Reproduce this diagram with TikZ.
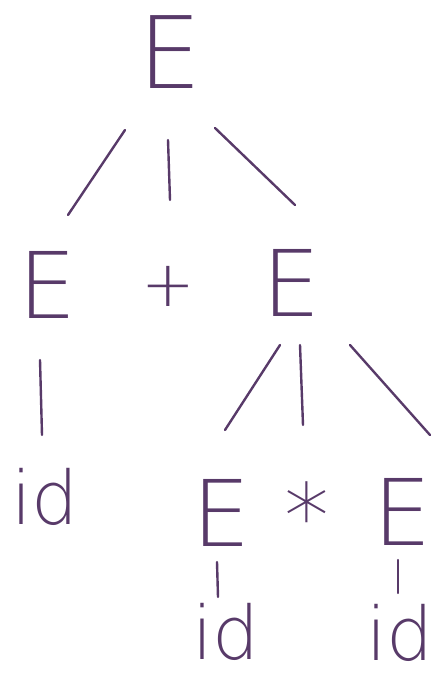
\documentclass[tikz,border=0pt]{standalone}
\usepackage{fontspec}
\setmainfont{DejaVu Sans ExtraLight}
\usetikzlibrary{positioning}
\definecolor{ink}{RGB}{88,58,105}
\tikzset{
  sym/.style={text=ink, inner sep=0pt, anchor=center},
  big/.style={sym, font=\fontsize{100}{100}\selectfont},
  mid/.style={sym, font=\fontsize{92}{92}\selectfont},
  small/.style={sym, font=\fontsize{74}{74}\selectfont},
  edge/.style={draw=ink, line width=2.4pt, line cap=round}
}
\begin{document}
\begin{tikzpicture}[x=1pt, y=-1pt]
\useasboundingbox (0,0) rectangle (441,679);
% nonterminals and tokens
\node[big] (e0) at (170,52) {E};
\node[mid] (e1) at (48,285) {E};
\node[sym, font=\fontsize{64}{64}\selectfont] (plus) at (168,286) {+};
\node[mid] (e2) at (292,283) {E};
\node[small] (id1) at (45,497) {id};
\node[mid] (e3) at (222,513) {E};
\node[sym, font=\fontsize{90}{90}\selectfont] (times) at (307,515) {*};
\node[mid] (e4) at (403,512) {E};
\node[small] (id3) at (226,632) {id};
\node[small] (id4) at (400,633) {id};
% tree edges
\draw[edge] ([shift={(-45,78)}]e0.center) -- ([shift={(20,-70)}]e1.center);
\draw[edge] ([shift={(-2,88)}]e0.center) -- ([shift={(2,-86)}]plus.center);
\draw[edge] ([shift={(45,76)}]e0.center) -- ([shift={(3,-78)}]e2.center);
\draw[edge] ([shift={(-8,75)}]e1.center) -- ([shift={(-3,-62)}]id1.center);
\draw[edge] ([shift={(-12,62)}]e2.center) -- ([shift={(3,-83)}]e3.center);
\draw[edge] ([shift={(8,62)}]e2.center) -- ([shift={(-4,-90)}]times.center);
\draw[edge] ([shift={(58,62)}]e2.center) -- ([shift={(27,-77)}]e4.center);
\draw[edge] ([shift={(-5,49)}]e3.center) -- ([shift={(-8,-35)}]id3.center);
\draw[edge] ([shift={(-5,48)}]e4.center) -- ([shift={(-2,-40)}]id4.center);
\end{tikzpicture}
\end{document}
